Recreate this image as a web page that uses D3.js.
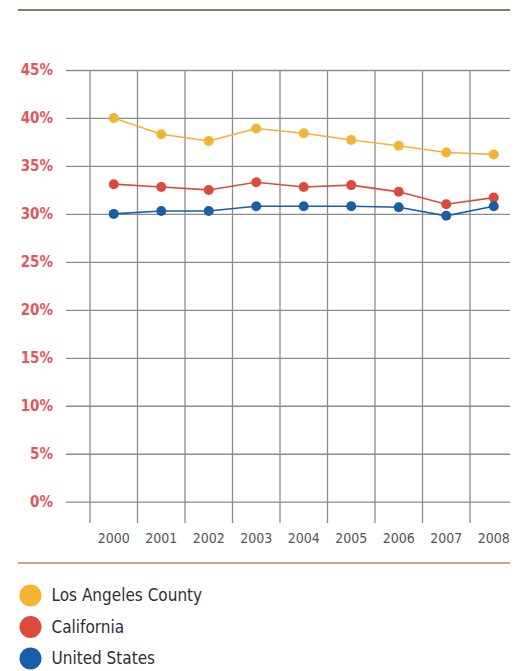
<!DOCTYPE html>
<html>
<head>
<meta charset="utf-8">
<script src="https://cdn.jsdelivr.net/npm/d3@7"></script>
<style>
  html, body { margin: 0; padding: 0; background: #fff; }
  svg { display: block; }
</style>
</head>
<body>
<svg id="chart" width="519" height="671"></svg>
<script>
const years = ["2000","2001","2002","2003","2004","2005","2006","2007","2008"];
const laCounty = [40.0, 38.3, 37.6, 38.9, 38.4, 37.7, 37.1, 36.4, 36.2];
const california = [33.1, 32.8, 32.5, 33.3, 32.8, 33.0, 32.3, 31.0, 31.7];
const unitedStates = [30.0, 30.3, 30.3, 30.8, 30.8, 30.8, 30.7, 29.8, 30.8];
const yTicks = [0, 5, 10, 15, 20, 25, 30, 35, 40, 45];
const seriesNames = ["Los Angeles County", "California", "United States"];
const seriesColors = ["#f5b335", "#dc4a3c", "#1a5ea8"];

const series = [laCounty, california, unitedStates].map((v, i) => ({
  name: seriesNames[i], color: seriesColors[i], values: v
}));

const svg = d3.select("#chart");
const narrow = "'Liberation Sans Narrow', 'DejaVu Sans Condensed', 'Liberation Sans', sans-serif";

const x = d3.scaleBand().domain(years).range([90, 517.5]).padding(0);
const y = d3.scaleLinear().domain([0, 45]).range([501.7, 70]);

// top rule
svg.append("line").attr("x1", 18).attr("x2", 510).attr("y1", 10).attr("y2", 10)
  .attr("stroke", "#8a7566").attr("stroke-width", 2);
// bottom rule
svg.append("line").attr("x1", 18).attr("x2", 510).attr("y1", 563).attr("y2", 563)
  .attr("stroke", "#c97a66").attr("stroke-width", 1.5);

// horizontal grid + y labels via axis
const yAxis = d3.axisLeft(y).tickValues(yTicks).tickSize(-(510 - 66)).tickFormat(d => d + "%").tickPadding(13);
const gy = svg.append("g").attr("transform", "translate(66,0)").call(yAxis);
gy.select(".domain").remove();
gy.selectAll(".tick line").attr("stroke", "#8c8c8c").attr("stroke-width", 1.3);
gy.selectAll(".tick text").attr("fill", "#e0575f").attr("font-family", narrow)
  .attr("font-size", 15).attr("font-weight", "bold").attr("x", -13);

// vertical grid lines at band boundaries
svg.append("g").selectAll("line").data(years).join("line")
  .attr("x1", d => x(d)).attr("x2", d => x(d))
  .attr("y1", y(45)).attr("y2", 523)
  .attr("stroke", "#8c8c8c").attr("stroke-width", 1.3);

// x labels
const xAxis = d3.axisBottom(x).tickSize(0).tickPadding(0);
const gx = svg.append("g").attr("transform", "translate(0,530)").call(xAxis);
gx.select(".domain").remove();
gx.selectAll(".tick text").attr("fill", "#555").attr("font-family", narrow)
  .attr("font-size", 14).attr("dy", "0.9em");

// lines and markers
const line = d3.line().x((d, i) => x(years[i]) + x.bandwidth() / 2).y(d => y(d));
const sg = svg.append("g").selectAll("g").data(series).join("g");
sg.append("path").attr("d", d => line(d.values)).attr("fill", "none")
  .attr("stroke", d => d.color).attr("stroke-width", 1.6);
sg.selectAll("circle").data(d => d.values.map(v => ({ v, c: d.color }))).join("circle")
  .attr("cx", (d, i) => x(years[i]) + x.bandwidth() / 2)
  .attr("cy", d => y(d.v)).attr("r", 5).attr("fill", d => d.c);

// legend
const lg = svg.append("g").selectAll("g").data(series).join("g")
  .attr("transform", (d, i) => `translate(30.5,${595.5 + i * 31.5})`);
lg.append("circle").attr("r", 11).attr("fill", d => d.color);
lg.append("text").attr("x", 21).attr("dy", "0.35em").attr("font-family", narrow)
  .attr("font-size", 17).attr("fill", "#2e2e38").text(d => d.name);
</script>
</body>
</html>
